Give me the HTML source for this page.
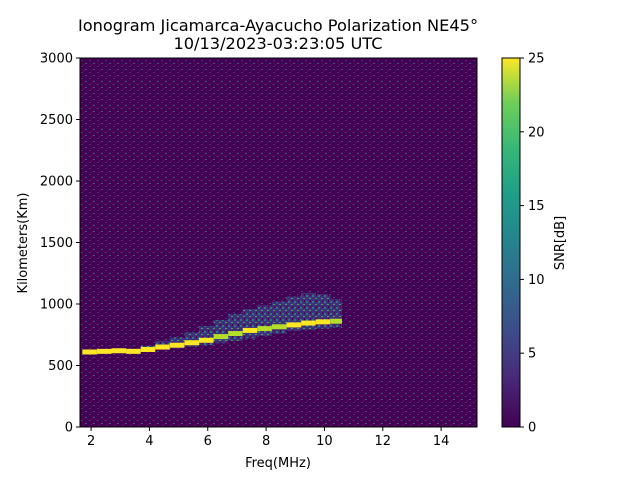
<!DOCTYPE html>
<html><head><meta charset="utf-8"><style>
body{margin:0;background:#fff;width:640px;height:480px;overflow:hidden}
svg{font-family:"DejaVu Sans","Liberation Sans",sans-serif}
</style></head><body>
<svg id="chart" width="640" height="480">
<defs>
<linearGradient id="vir" x1="0" y1="1" x2="0" y2="0">
<stop offset="0" stop-color="#440154"/><stop offset="0.13" stop-color="#482878"/><stop offset="0.25" stop-color="#3e4989"/><stop offset="0.38" stop-color="#31688e"/><stop offset="0.5" stop-color="#26828e"/><stop offset="0.63" stop-color="#1f9e89"/><stop offset="0.75" stop-color="#35b779"/><stop offset="0.88" stop-color="#6ece58"/><stop offset="1" stop-color="#fde725"/>
</linearGradient>
<pattern id="noise" width="8" height="6" patternUnits="userSpaceOnUse">
<rect width="8" height="6" fill="#440154"/>
<rect x="1" y="0" width="2" height="1" fill="#472d7b"/><rect x="5" y="3" width="2" height="1" fill="#3b528b"/><rect x="3" y="4" width="1" height="1" fill="#482475"/>
</pattern>
<pattern id="speck" width="6" height="6" patternUnits="userSpaceOnUse">
<rect width="6" height="6" fill="#3b3f86"/>
<rect x="0" y="1" width="2" height="2" fill="#2a9d8a"/><rect x="3" y="4" width="2" height="1" fill="#5ec962"/><rect x="4" y="0" width="1" height="2" fill="#440154"/>
</pattern>
</defs>
<text x="278" y="31" text-anchor="middle" font-size="16.2">Ionogram Jicamarca-Ayacucho Polarization NE45°</text>
<text x="278" y="49" text-anchor="middle" font-size="16.2">10/13/2023-03:23:05 UTC</text>
<rect x="80" y="58" width="397" height="369" fill="url(#noise)"/>
<g id="marks"></g>
<rect x="80" y="58" width="397" height="369" fill="none" stroke="#000" stroke-width="1"/>
<g id="xt"></g>
<g id="yt"></g>
<text x="278" y="467" text-anchor="middle" font-size="13">Freq(MHz)</text>
<text transform="translate(27,243) rotate(-90)" text-anchor="middle" font-size="13">Kilometers(Km)</text>
<rect x="502" y="58" width="18" height="369" fill="url(#vir)" stroke="#000" stroke-width="1"/>
<g id="ct"></g>
<text transform="translate(564,243) rotate(-90)" text-anchor="middle" font-size="13">SNR[dB]</text>
</svg>
<script>
const xTicks=[2,4,6,8,10,12,14];
const yTicks=[0,500,1000,1500,2000,2500,3000];
const cTicks=[0,5,10,15,20,25];
const traceFreq=[1.7,2.2,2.7,3.2,3.7,4.2,4.7,5.2,5.7,6.2,6.7,7.2,7.7,8.2,8.7,9.2,9.7,10.2,10.6];
const traceKm=[610,615,620,615,630,650,665,685,705,735,760,785,800,815,830,845,855,860,865];
const spreadLow=[600,605,610,605,615,630,640,655,665,680,700,720,740,760,780,790,800,810,830];
const spreadHigh=[625,630,635,630,660,700,730,770,820,870,920,960,990,1020,1060,1090,1080,1040,960];
const traceSnr=[25,25,25,24,23,23,24,23,23,22,22,23,22,22,23,24,24,22,20];
const X0=1.62,X1=15.23,Y1=3000;
const px=f=>80+(f-X0)/(X1-X0)*397, py=k=>427-k/Y1*369, cy=v=>427-v/25*369;
const NS='http://www.w3.org/2000/svg';
function mk(t,a,p){const e=document.createElementNS(NS,t);for(const k in a)e.setAttribute(k,a[k]);p.appendChild(e);return e;}
const m=document.getElementById('marks');
for(let i=0;i<traceFreq.length-1;i++){
 const x=px(traceFreq[i]),w=px(traceFreq[i+1])-x;
 const b=mk('rect',{x:x,y:py(spreadHigh[i]),width:w,height:py(spreadLow[i])-py(spreadHigh[i]),fill:'url(#speck)',opacity:0.75},m);
 
 
 const c=mk('rect',{x:x,y:py(traceKm[i])-2.5,width:w,height:5,fill:traceSnr[i]>=23?'#fde725':'#b5de2b'},m);
 
 
}
const xt=document.getElementById('xt');
xTicks.forEach(v=>{const x=px(v);mk('line',{x1:x,x2:x,y1:427,y2:431,stroke:'#000'},xt);const t=mk('text',{x:x,y:445,'text-anchor':'middle','font-size':13},xt);t.textContent=v;});
const yt=document.getElementById('yt');
yTicks.forEach(v=>{const y=py(v);mk('line',{x1:76,x2:80,y1:y,y2:y,stroke:'#000'},yt);const t=mk('text',{x:73,y:y+4.5,'text-anchor':'end','font-size':13},yt);t.textContent=v;});
const ct=document.getElementById('ct');
cTicks.forEach(v=>{const y=cy(v);mk('line',{x1:520,x2:524,y1:y,y2:y,stroke:'#000'},ct);const t=mk('text',{x:528,y:y+4.5,'font-size':13},ct);t.textContent=v;});
</script>
</body></html>
